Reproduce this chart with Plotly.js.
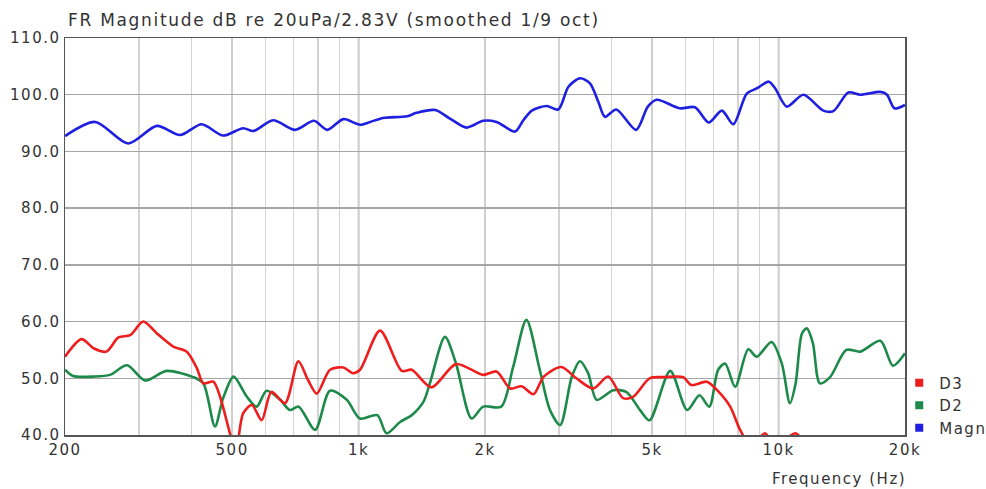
<!DOCTYPE html>
<html>
<head>
<meta charset="utf-8">
<script src="https://cdn.plot.ly/plotly-3.0.1.min.js"></script>
<style>html,body{margin:0;padding:0;background:#fff;}#chart{width:986px;height:489px;}
text{letter-spacing:1.5px;}
text.gtitle{letter-spacing:1.7px;}</style>
</head>
<body>
<div id="chart"></div>
<script>
// Frequency response data
const magnFreq = [200,236,283,331,376,423,476,531,562,626,706,783,842,920,1008,1066,1144,1305,1374,1522,1650,1808,1980,2131,2358,2468,2586,2806,2990,3160,3368,3556,3720,3860,4108,4580,4884,5128,5826,6325,6820,7330,7800,8400,8870,9480,9820,10460,11460,12780,13500,14660,15660,17480,18120,18880,20000];
const magnDb = [92.7,95.2,91.4,94.5,92.9,94.8,92.8,94.1,93.6,95.5,93.8,95.4,93.8,95.7,94.7,95.2,95.9,96.2,96.8,97.3,95.8,94.2,95.4,95.2,93.5,95.5,97.2,98.0,97.4,101.4,102.9,102.0,98.8,96.1,97.4,93.8,97.9,99.1,97.6,97.8,95.1,97.2,94.8,100.2,101.1,102.3,101.1,97.9,100.0,97.2,97.1,100.4,100.0,100.5,100.0,97.6,98.2];

const d3Freq = [200,219,234,251,268,286,307,331,362,390,412,427,451,468,494,510,531,557,588,620,668,719,758,795,855,920,970,1008,1125,1268,1338,1492,1706,1980,2131,2296,2444,2610,2760,3040,3300,3620,3930,4265,4510,4930,5330,5930,6200,6750,7140,7670,8100,8600,9280,9800,10980,11800];
const d3Db = [53.8,56.9,55.3,54.7,57.2,57.6,60.0,57.9,55.6,54.7,51.8,49.1,49.4,46.75,40.3,37,43.8,45.3,42.6,47.6,45.6,53.0,49.7,47.3,51.5,51.9,50.9,51.5,58.4,51.3,51.5,48.4,52.5,50.6,51.2,48.2,48.6,47.2,50.3,52.0,50.0,48.2,50.3,46.5,46.75,50.0,50.2,50.2,48.8,49.4,47.9,45.0,40.9,38,40.3,38,40.3,37];

const d2Freq = [200,209,234,256,281,310,349,404,427,455,476,504,542,572,604,651,686,720,788,855,937,1008,1108,1166,1256,1338,1428,1478,1606,1706,1858,1980,2186,2334,2510,2700,2856,3020,3220,3368,3520,3690,4040,4340,4680,4930,5520,6060,6480,6840,7180,7460,7880,8470,8870,9620,10180,10640,10980,11370,11680,12070,12540,13260,14500,15660,17480,18720,20000];
const d2Db = [51.5,50.4,50.3,50.6,52.3,49.6,51.3,50.2,49.1,41.5,46.5,50.3,46.75,45.0,47.8,46.2,44.4,45.0,40.9,47.8,46.2,42.9,43.5,40.3,42.3,43.5,45.9,49.1,57.3,52.6,42.9,45.0,45.0,52.0,60.3,51.5,44.4,41.75,50.3,53.0,50.9,46.2,47.9,47.6,44.4,42.6,51.3,44.4,47.0,45.0,51.5,52.6,48.5,55.1,53.8,56.4,52.6,45.6,49.1,57.9,58.8,56.2,49.1,50.2,55.0,54.7,56.6,52.2,54.4];

const xTickVals = [200,500,1000,2000,5000,10000,20000];
const xTickText = ['200','500','1k','2k','5k','10k','20k'];
const xMinorVals = [300,400,600,700,800,900,3000,4000,6000,7000,8000,9000];
const yTickVals = [40,50,60,70,80,90,100,110];
const seriesNames = ['D3','D2','Magn'];

const cRed = '#ee1e1e', cGreen = '#1e8a4a', cBlue = '#1f1fe0';
const font = 'DejaVu Sans, sans-serif';

const lineStyle = (c) => ({color: c, width: 2.6, shape: 'spline', smoothing: 0.8});

const traces = [
  {x: magnFreq, y: magnDb, mode: 'lines', line: lineStyle(cBlue), showlegend: false, hoverinfo: 'skip'},
  {x: d2Freq, y: d2Db, mode: 'lines', line: lineStyle(cGreen), showlegend: false, hoverinfo: 'skip'},
  {x: d3Freq, y: d3Db, mode: 'lines', line: lineStyle(cRed), showlegend: false, hoverinfo: 'skip'},
  // legend entries (square swatches)
  {x: [null], y: [null], mode: 'markers', name: seriesNames[0], marker: {symbol: 'square', size: 8, color: cRed}},
  {x: [null], y: [null], mode: 'markers', name: seriesNames[1], marker: {symbol: 'square', size: 8, color: cGreen}},
  {x: [null], y: [null], mode: 'markers', name: seriesNames[2], marker: {symbol: 'square', size: 8, color: cBlue}}
];

const darkV = [1000, 10000].map(v => ({
  type: 'line', xref: 'x', yref: 'paper', x0: v, x1: v, y0: 0, y1: 1,
  line: {color: '#8c8c8c', width: 1.5}, layer: 'below'
}));

const layout = {
  width: 986, height: 489,
  margin: {l: 65, r: 81, t: 38, b: 54, autoexpand: false},
  paper_bgcolor: '#ffffff', plot_bgcolor: '#ffffff',
  font: {family: font, size: 15, color: '#333333'},
  title: {text: 'FR Magnitude dB re 20uPa/2.83V (smoothed 1/9 oct)', xref: 'container', yref: 'container',
          x: 0.069, xanchor: 'left', y: 0.96, yanchor: 'middle', font: {family: font, size: 17, color: '#333333'}},
  xaxis: {
    type: 'log', range: [Math.log10(200), Math.log10(20000)],
    tickmode: 'array', tickvals: xTickVals, ticktext: xTickText,
    showgrid: true, gridcolor: '#cfcfcf', gridwidth: 1.5,
    minor: {tickmode: 'array', tickvals: xMinorVals, showgrid: true, gridcolor: '#d4d4d4', gridwidth: 1.5, ticklen: 0},
    ticks: '', showline: true, linecolor: '#555555', linewidth: 1.5, mirror: true,
    tickfont: {family: font, size: 15, color: '#333333'}, zeroline: false, automargin: false
  },
  yaxis: {
    range: [40, 110], tickmode: 'array', tickvals: yTickVals, tickformat: '.1f',
    showgrid: true, gridcolor: '#a6a6a6', gridwidth: 1.5,
    ticks: '', showline: true, linecolor: '#555555', linewidth: 1.5, mirror: true,
    tickfont: {family: font, size: 15, color: '#333333'}, zeroline: false, automargin: false
  },
  shapes: darkV,
  legend: {xref: 'container', yref: 'container', x: 0.912, xanchor: 'left', y: 0.2505, yanchor: 'top',
           bgcolor: 'rgba(0,0,0,0)', font: {family: font, size: 15, color: '#333333'}, itemwidth: 30, tracegroupgap: 0},
  annotations: [{text: 'Frequency (Hz)', xref: 'paper', yref: 'paper', x: 1.004, xanchor: 'right',
                 y: -0.082, yanchor: 'top', showarrow: false, font: {family: font, size: 15, color: '#333333'}}]
};

Plotly.newPlot('chart', traces, layout, {staticPlot: true, displayModeBar: false});
</script>
</body>
</html>
